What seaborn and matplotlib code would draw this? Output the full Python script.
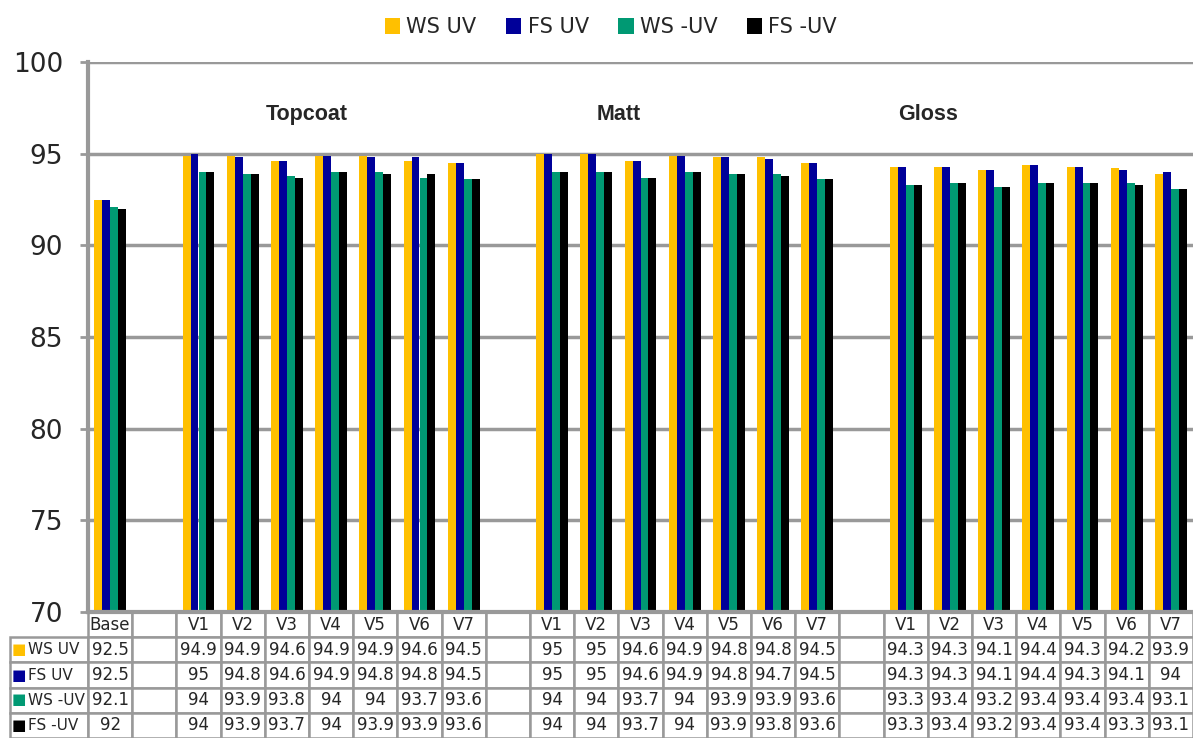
import numpy as np
import pandas as pd
import matplotlib
matplotlib.use("Agg")
import matplotlib.pyplot as plt
import seaborn as sns

# 數據 (由圖表資料表讀取)
categories = ["Base", "",
              "V1", "V2", "V3", "V4", "V5", "V6", "V7", "",
              "V1", "V2", "V3", "V4", "V5", "V6", "V7", "",
              "V1", "V2", "V3", "V4", "V5", "V6", "V7"]
nan = np.nan
ws_uv = [92.5, nan, 94.9, 94.9, 94.6, 94.9, 94.9, 94.6, 94.5, nan,
         95, 95, 94.6, 94.9, 94.8, 94.8, 94.5, nan,
         94.3, 94.3, 94.1, 94.4, 94.3, 94.2, 93.9]
fs_uv = [92.5, nan, 95, 94.8, 94.6, 94.9, 94.8, 94.8, 94.5, nan,
         95, 95, 94.6, 94.9, 94.8, 94.7, 94.5, nan,
         94.3, 94.3, 94.1, 94.4, 94.3, 94.1, 94]
ws_nuv = [92.1, nan, 94, 93.9, 93.8, 94, 94, 93.7, 93.6, nan,
          94, 94, 93.7, 94, 93.9, 93.9, 93.6, nan,
          93.3, 93.4, 93.2, 93.4, 93.4, 93.4, 93.1]
fs_nuv = [92, nan, 94, 93.9, 93.7, 94, 93.9, 93.9, 93.6, nan,
          94, 94, 93.7, 94, 93.9, 93.8, 93.6, nan,
          93.3, 93.4, 93.2, 93.4, 93.4, 93.3, 93.1]
series_names = ["WS UV", "FS UV", "WS -UV", "FS -UV"]
series_values = [ws_uv, fs_uv, ws_nuv, fs_nuv]
colors = ["#FFC000", "#000099", "#009973", "#000000"]
group_labels = ["Topcoat", "Matt", "Gloss"]
group_label_x = [4.45, 11.5, 18.5]

# 長表格
keys = [f"c{i}" for i in range(len(categories))]
df = pd.DataFrame({
    "key": np.tile(keys, len(series_names)),
    "series": np.repeat(series_names, len(keys)),
    "value": np.concatenate(series_values),
})

sns.set_style("white")
plt.rcParams["font.family"] = ["DejaVu Sans"]

fig = plt.figure(figsize=(11.93, 7.38), dpi=100)
ax = fig.add_axes([88 / 1193, 1 - 612 / 738, 1105 / 1193, 550 / 738])

sns.barplot(data=df, x="key", y="value", hue="series", order=keys,
            hue_order=series_names, palette=colors, width=0.72,
            saturation=1, errorbar=None, ax=ax, linewidth=0)

ax.set_ylim(70, 100)
ax.set_xlim(-0.5, len(keys) - 0.5)
ax.set_yticks([70, 75, 80, 85, 90, 95, 100])
ax.set_xticks([])
ax.set_xlabel("")
ax.set_ylabel("")
ax.yaxis.grid(True, color="#999999", linewidth=2.5)
ax.set_axisbelow(True)
for s in ["top", "right"]:
    ax.spines[s].set_visible(False)
for s in ["left", "bottom"]:
    ax.spines[s].set_color("#999999")
    ax.spines[s].set_linewidth(3)
ax.tick_params(axis="y", length=6, width=2, color="#999999", pad=12,
               labelsize=19, left=True)

for lab, gx in zip(group_labels, group_label_x):
    ax.text(gx, 97.15, lab, ha="center", va="center", fontsize=15.5,
            fontweight="bold", family="Liberation Sans")

# 圖例
handles, labels = ax.get_legend_handles_labels()
ax.get_legend().remove()
fig.legend(handles, labels, loc="center", bbox_to_anchor=(0.512, 0.963),
           ncol=4, frameon=False, fontsize=15, handlelength=0.75,
           handleheight=0.75, handletextpad=0.3, columnspacing=1.4)

# 資料表
def fmt(v):
    return "" if np.isnan(v) else f"{v:g}"

cell_text = [[""] + categories]
for name, vals in zip(series_names, series_values):
    cell_text.append([name] + [fmt(v) for v in vals])
lab_w = 78 / 1183
col_w = [lab_w] + [(1 - lab_w) / len(keys)] * len(keys)
tbl = ax.table(cellText=cell_text, colWidths=col_w, cellLoc="center",
               bbox=[-78 / 1105, -126 / 550, 1183 / 1105, 126 / 550])
tbl.auto_set_font_size(False)
tbl.set_fontsize(12)
for (r, c), cell in tbl.get_celld().items():
    cell.set_edgecolor("#999999")
    cell.set_linewidth(1.8)
    if r == 0 and c == 0:
        cell.visible_edges = ""
    if c == 0 and r > 0:
        cell.get_text().set_ha("left")
        cell.get_text().set_fontsize(11)
        cell.PAD = 0.23

for i, col in enumerate(colors):
    ax.text(-76 / 1105, -(38 + 25 * i) / 550, "■", color=col, fontsize=11,
            ha="left", va="center", transform=ax.transAxes)

fig.savefig("out.png", dpi=100)
